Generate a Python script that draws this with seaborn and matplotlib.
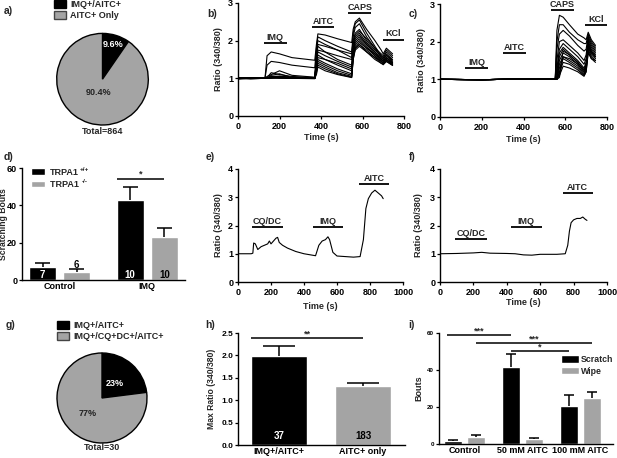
import numpy as np
import pandas as pd
import matplotlib
matplotlib.use("Agg")
import matplotlib.pyplot as plt
from matplotlib.patches import Patch
import seaborn as sns

# ---------------- data ----------------
pie_a_labels = ["IMQ+/AITC+", "AITC+ Only"]
pie_a_pct = [9.6, 90.4]
pie_a_total = 864

pie_g_labels = ["IMQ+/AITC+", "IMQ+/CQ+DC+/AITC+"]
pie_g_pct = [23, 77]
pie_g_total = 30

# b) IMQ / AITC / CAPS / KCl calcium traces
b_time = [0, 60, 130, 140, 160, 200, 260, 370, 378, 385, 420, 480, 548,
          555, 565, 585, 620, 660, 690, 700, 715, 745]
b_traces = [
    [1.0, 1.01, 1.0, 1.6, 1.7, 1.65, 1.55, 1.48, 1.9, 2.18, 2.15, 2.05, 1.95, 2.3, 2.5, 2.6, 2.3, 2.0, 1.75, 1.65, 1.8, 1.65],
    [0.99, 1.0, 1.0, 1.35, 1.45, 1.42, 1.35, 1.28, 1.8, 2.1, 2.0, 1.85, 1.7, 2.2, 2.45, 2.55, 2.2, 1.85, 1.6, 1.55, 1.7, 1.55],
    [1.01, 0.99, 1.0, 1.05, 1.1, 1.2, 1.08, 1.03, 1.7, 2.0, 1.9, 1.75, 1.55, 2.1, 2.35, 2.45, 2.1, 1.8, 1.55, 1.5, 1.62, 1.48],
    [1.0, 1.02, 1.0, 1.02, 1.15, 1.1, 1.05, 1.02, 1.6, 1.9, 1.85, 1.75, 1.65, 2.0, 2.2, 2.3, 2.0, 1.75, 1.6, 1.55, 1.65, 1.5],
    [0.98, 1.0, 1.0, 1.0, 1.08, 1.12, 1.02, 1.0, 1.55, 1.85, 1.7, 1.5, 1.35, 1.9, 2.1, 2.2, 1.95, 1.7, 1.5, 1.45, 1.55, 1.42],
    [1.0, 0.99, 1.0, 1.0, 1.03, 1.05, 1.02, 1.0, 1.5, 1.75, 1.7, 1.6, 1.5, 1.9, 2.15, 2.25, 2.05, 1.8, 1.65, 1.6, 1.75, 1.6],
    [1.01, 1.0, 1.0, 1.0, 1.05, 1.06, 1.03, 1.0, 1.45, 1.7, 1.6, 1.45, 1.3, 1.8, 2.0, 2.1, 1.9, 1.65, 1.5, 1.45, 1.55, 1.4],
    [1.0, 1.0, 1.0, 1.0, 1.02, 1.04, 1.0, 0.99, 1.4, 1.62, 1.5, 1.35, 1.2, 1.7, 1.95, 2.05, 1.85, 1.6, 1.45, 1.4, 1.5, 1.38],
    [0.99, 1.01, 1.0, 1.0, 1.04, 1.03, 1.01, 1.0, 1.35, 1.55, 1.5, 1.4, 1.25, 1.75, 2.05, 2.15, 1.9, 1.7, 1.55, 1.5, 1.6, 1.45],
    [1.0, 1.0, 1.0, 1.0, 1.03, 1.02, 1.0, 1.0, 1.3, 1.5, 1.4, 1.25, 1.12, 1.6, 1.9, 2.0, 1.8, 1.6, 1.45, 1.4, 1.5, 1.38],
    [1.0, 0.99, 1.0, 1.0, 1.01, 1.03, 1.0, 1.0, 1.25, 1.45, 1.35, 1.2, 1.08, 1.6, 1.85, 1.95, 1.8, 1.65, 1.5, 1.45, 1.55, 1.42],
    [1.01, 1.0, 1.0, 1.0, 1.02, 1.01, 1.0, 1.0, 1.2, 1.4, 1.3, 1.15, 1.05, 1.55, 1.8, 1.9, 1.75, 1.55, 1.45, 1.4, 1.48, 1.36],
    [1.0, 1.0, 1.0, 1.0, 1.0, 1.02, 1.0, 1.0, 1.15, 1.35, 1.25, 1.12, 1.03, 1.5, 1.8, 1.9, 1.7, 1.55, 1.4, 1.38, 1.45, 1.35],
    [1.0, 1.01, 1.0, 1.0, 1.01, 1.0, 1.0, 1.0, 1.1, 1.3, 1.2, 1.1, 1.02, 1.5, 1.75, 1.85, 1.7, 1.5, 1.4, 1.36, 1.45, 1.34],
]
b_stim_labels = ["IMQ", "AITC", "CAPS", "KCl"]
b_stim_start = [125, 355, 532, 697]
b_stim_end = [235, 465, 641, 800]
b_stim_level = [1.94, 2.36, 2.73, 2.03]

# c) same protocol, IMQ non-responders
c_time = [0, 200, 300, 450, 552, 560, 572, 590, 620, 660, 690, 700, 710, 725, 745]
c_traces = [
    [1.0, 0.99, 1.0, 1.01, 1.0, 2.3, 2.7, 2.65, 2.45, 2.2, 2.1, 2.05, 2.25, 2.05, 1.9],
    [1.0, 0.99, 1.0, 1.01, 1.0, 2.0, 2.45, 2.45, 2.25, 2.05, 1.95, 1.95, 2.2, 2.0, 1.85],
    [1.0, 0.99, 1.0, 1.01, 1.0, 1.8, 2.2, 2.3, 2.15, 1.9, 1.75, 1.8, 2.15, 1.95, 1.8],
    [1.0, 0.99, 1.0, 1.01, 1.0, 1.5, 2.0, 2.05, 1.9, 1.7, 1.5, 1.65, 2.1, 1.9, 1.75],
    [1.0, 0.99, 1.0, 1.01, 1.0, 1.3, 1.8, 1.95, 1.8, 1.6, 1.4, 1.55, 2.05, 1.85, 1.7],
    [1.0, 0.99, 1.0, 1.01, 1.0, 1.2, 1.7, 1.85, 1.7, 1.5, 1.3, 1.45, 2.0, 1.8, 1.65],
    [1.0, 0.99, 1.0, 1.01, 1.0, 1.1, 1.6, 1.8, 1.65, 1.45, 1.25, 1.4, 1.95, 1.75, 1.6],
    [1.0, 0.99, 1.0, 1.01, 1.0, 1.05, 1.5, 1.7, 1.6, 1.4, 1.2, 1.35, 1.9, 1.7, 1.6],
    [1.0, 0.99, 1.0, 1.01, 1.0, 1.02, 1.4, 1.6, 1.5, 1.35, 1.15, 1.3, 1.85, 1.65, 1.55],
    [1.0, 0.99, 1.0, 1.01, 1.0, 1.0, 1.3, 1.55, 1.45, 1.3, 1.12, 1.25, 1.8, 1.6, 1.5],
    [1.0, 0.99, 1.0, 1.01, 1.0, 1.0, 1.2, 1.45, 1.4, 1.25, 1.1, 1.2, 1.75, 1.55, 1.5],
    [1.0, 0.99, 1.0, 1.01, 1.0, 1.0, 1.1, 1.35, 1.3, 1.2, 1.08, 1.2, 1.7, 1.55, 1.45],
    [1.0, 0.99, 1.0, 1.01, 1.0, 1.0, 1.05, 1.6, 1.55, 1.4, 1.2, 1.3, 1.9, 1.7, 1.6],
    [1.0, 0.99, 1.0, 1.01, 1.0, 1.0, 1.15, 1.75, 1.65, 1.45, 1.25, 1.35, 1.95, 1.75, 1.6],
]
c_stim_labels = ["IMQ", "AITC", "CAPS", "KCl"]
c_stim_start = [120, 303, 531, 693]
c_stim_end = [229, 411, 640, 800]
c_stim_level = [1.30, 1.71, 2.84, 2.44]

# d) scratching bouts
d_categories = ["Control", "IMQ"]
d_genotypes = ["TRPA1", "TRPA1 "]
d_genotype_sup = ["+/+", "-/-"]
d_mean_wt = [6.8, 42.7]
d_mean_ko = [4.3, 22.8]
d_sem_wt = [2.5, 7.1]
d_sem_ko = [1.4, 5.3]
d_n_wt = [7, 10]
d_n_ko = [6, 10]

# e) / f) single-cell traces CQ/DC -> IMQ -> AITC
e_time = [0, 80, 90, 95, 105, 120, 140, 160, 180, 190, 200, 215, 230, 240, 250, 270,
          300, 350, 400, 450, 470, 490, 510, 530, 545, 555, 575, 600, 650, 700, 740,
          760, 775, 790, 810, 830, 850, 870, 880]
e_ratio = [1.0, 1.0, 1.02, 1.38, 1.35, 1.15, 1.25, 1.3, 1.35, 1.45, 1.35, 1.45, 1.55, 1.58, 1.4, 1.3,
           1.2, 1.08, 1.0, 0.95, 0.93, 1.3, 1.45, 1.5, 1.6, 1.5, 1.05, 0.92, 0.9, 0.88, 0.9,
           1.5, 2.6, 2.95, 3.15, 3.25, 3.15, 3.05, 2.95]
e_stim_labels = ["CQ/DC", "IMQ", "AITC"]
e_stim_start = [84, 452, 734]
e_stim_end = [270, 638, 918]
e_stim_level = [1.94, 1.94, 3.46]

f_time = [0, 100, 200, 250, 300, 400, 450, 500, 550, 600, 700, 750, 765, 775, 785,
          800, 820, 840, 855, 870, 880]
f_ratio = [1.0, 1.01, 1.03, 1.05, 1.02, 1.01, 1.0, 0.96, 0.95, 0.98, 0.98, 1.0, 1.3, 1.8, 2.1,
           2.2, 2.25, 2.25, 2.3, 2.22, 2.18]
f_stim_labels = ["CQ/DC", "IMQ", "AITC"]
f_stim_start = [90, 424, 734]
f_stim_end = [280, 608, 915]
f_stim_level = [1.52, 1.94, 3.15]

# h) max ratio
h_categories = ["IMQ+/AITC+", "AITC+ only"]
h_mean = [1.98, 1.31]
h_sem = [0.22, 0.08]
h_n = [37, 183]

# i) AITC cheek model
i_categories = ["Control", "50 mM AITC", "100 mM AITC"]
i_behaviours = ["Scratch", "Wipe"]
i_scratch = [1.4, 41.8, 20.8]
i_scratch_sem = [0.6, 6.6, 5.7]
i_wipe = [3.6, 2.7, 24.7]
i_wipe_sem = [1.4, 0.7, 3.3]

BLACK = "#000000"
GREY = "#a4a4a4"

# ---------------- style ----------------
sns.set_theme(style="ticks")
plt.rcParams["font.family"] = ["Liberation Sans", "DejaVu Sans"]
plt.rcParams["font.weight"] = "bold"
plt.rcParams["axes.labelweight"] = "bold"
plt.rcParams["axes.linewidth"] = 1.0
plt.rcParams["xtick.major.width"] = 0.9
plt.rcParams["ytick.major.width"] = 0.9
plt.rcParams["xtick.major.size"] = 2.5
plt.rcParams["ytick.major.size"] = 2.5
plt.rcParams["xtick.major.pad"] = 1.5
plt.rcParams["ytick.major.pad"] = 1.0
plt.rcParams["axes.edgecolor"] = "black"

W, H = 617, 458
fig = plt.figure(figsize=(W / 100, H / 100), dpi=100)
fig.patch.set_facecolor("white")

TICK = 6.5
LAB = 6.5


def px_axes(left, top, right, bottom):
    return fig.add_axes([left / W, 1 - bottom / H, (right - left) / W, (bottom - top) / H])


def panel_letter(x, y, s):
    fig.text(x / W, 1 - y / H, s, fontsize=7.5, fontweight="bold", va="center", ha="left")


def style_axes(ax, ylab_x=None, xlab_y=None):
    sns.despine(ax=ax)
    ax.tick_params(labelsize=TICK, colors="black")
    for lab in ax.get_xticklabels() + ax.get_yticklabels():
        lab.set_fontweight("bold")
    if ylab_x is not None:
        ax.yaxis.set_label_coords(ylab_x, 0.5)
    if xlab_y is not None:
        ax.xaxis.set_label_coords(0.5, xlab_y)


def draw_pie(ax, pct, label_r, label_colors):
    wedges, _ = ax.pie(pct, colors=[BLACK, GREY], startangle=90, counterclock=False,
                       wedgeprops=dict(edgecolor="black", linewidth=1.0))
    for w, p, r, col in zip(wedges, pct, label_r, label_colors):
        ang = np.deg2rad((w.theta1 + w.theta2) / 2)
        ax.text(r * np.cos(ang), r * np.sin(ang), f"{p:g}%", ha="center", va="center",
                color=col, fontsize=6.5, fontweight="bold")
    ax.set_xlim(-1.04, 1.04)
    ax.set_ylim(-1.04, 1.04)
    ax.set_aspect("equal")


def draw_traces(ax, time, traces, xmax, ymax, ylab_x, xlab_y):
    rows = []
    for k, tr in enumerate(traces):
        for t, v in zip(time, tr):
            rows.append({"time": t, "ratio": v, "cell": k})
    df = pd.DataFrame(rows)
    sns.lineplot(data=df, x="time", y="ratio", units="cell", estimator=None,
                 color="black", linewidth=0.8, ax=ax, legend=False)
    ax.set_xlim(0, xmax)
    ax.set_ylim(0, ymax)
    ax.set_xlabel("Time (s)", fontsize=LAB)
    ax.set_ylabel("Ratio (340/380)", fontsize=LAB)
    style_axes(ax, ylab_x, xlab_y)


def draw_stimuli(ax, labels, starts, ends, levels, dy):
    for lab, s, e, y in zip(labels, starts, ends, levels):
        ax.hlines(y, s, e, color="black", linewidth=1.3, clip_on=False)
        ax.text((s + e) / 2, y + dy, lab, ha="center", va="bottom", fontsize=6.5,
                fontweight="bold", clip_on=False)


def bar_geometry(ax):
    pats = sorted(ax.patches, key=lambda p: p.get_x())
    return [(p.get_x(), p.get_width(), p.get_height()) for p in pats]


def draw_errors(ax, geom, sems):
    for (x0, w, h), s in zip(geom, sems):
        xc = x0 + w / 2
        ax.vlines(xc, h, h + s, color="black", linewidth=1.1)
        ax.hlines(h + s, xc - 0.28 * w, xc + 0.28 * w, color="black", linewidth=1.1)


def sig_bar(ax, x1, x2, y, star, dy):
    ax.hlines(y, x1, x2, color="black", linewidth=1.1, clip_on=False)
    ax.text((x1 + x2) / 2, y + dy, star, ha="center", va="center", fontsize=6.5,
            fontweight="bold", clip_on=False)


# ---------------- a) pie ----------------
r = 45.8
ax_a = px_axes(102.5 - r * 1.04, 79.2 - r * 1.04, 102.5 + r * 1.04, 79.2 + r * 1.04)
draw_pie(ax_a, pie_a_pct, [0.8, 0.31], ["white", "#222222"])
fig.text(102.5 / W, 1 - 132 / H, f"Total={pie_a_total}", ha="center", va="center",
         fontsize=6.5, fontweight="bold")
fig.legend(handles=[Patch(facecolor=BLACK, edgecolor="black"),
                    Patch(facecolor=GREY, edgecolor="#444444")],
           labels=pie_a_labels, loc="upper left", bbox_to_anchor=(54 / W, 1 - 0 / H),
           frameon=False, fontsize=6.5, handlelength=1.3, handleheight=0.9,
           handletextpad=0.5, labelspacing=0.25, borderaxespad=0, borderpad=0)
panel_letter(4, 11, "a)")

# ---------------- b) ----------------
ax_b = px_axes(238, 3, 404, 116)
draw_traces(ax_b, b_time, b_traces, 800, 3, -0.089, -0.153)
ax_b.set_xticks([0, 200, 400, 600, 800])
ax_b.set_yticks([0, 1, 2, 3])
draw_stimuli(ax_b, b_stim_labels, b_stim_start, b_stim_end, b_stim_level, 0.03)
panel_letter(207, 14, "b)")

# ---------------- c) ----------------
ax_c = px_axes(440, 4, 607, 117)
draw_traces(ax_c, c_time, c_traces, 800, 3, -0.084, -0.16)
ax_c.set_xticks([0, 200, 400, 600, 800])
ax_c.set_yticks([0, 1, 2, 3])
draw_stimuli(ax_c, c_stim_labels, c_stim_start, c_stim_end, c_stim_level, 0.02)
panel_letter(409, 14, "c)")

# ---------------- d) bars ----------------
ax_d = px_axes(22, 168, 185, 280)
d_df = pd.DataFrame({
    "group": d_categories * 2,
    "genotype": [d_genotypes[0]] * 2 + [d_genotypes[1]] * 2,
    "bouts": d_mean_wt + d_mean_ko,
})
sns.barplot(data=d_df, x="group", y="bouts", hue="genotype", order=d_categories,
            hue_order=d_genotypes, palette=[BLACK, GREY], width=0.78, gap=0.2,
            errorbar=None, legend=False, saturation=1, ax=ax_d)
geom_d = bar_geometry(ax_d)
sem_d = [d_sem_wt[0], d_sem_ko[0], d_sem_wt[1], d_sem_ko[1]]
n_d = [d_n_wt[0], d_n_ko[0], d_n_wt[1], d_n_ko[1]]
n_d_colors = ["white", "black", "white", "black"]
draw_errors(ax_d, geom_d, sem_d)
for (x0, w, h), n, sem, col in zip(geom_d, n_d, sem_d, n_d_colors):
    y = 2.7 if h > 5 else h + sem + 2.6
    ax_d.text(x0 + w / 2, y, str(n), ha="center", va="center",
              fontsize=7, fontweight="bold", color=col)
ax_d.set_ylim(0, 60)
ax_d.set_xlim(-0.43, 1.43)
ax_d.set_yticks([0, 20, 40, 60])
ax_d.set_xlabel("")
ax_d.set_ylabel("Scratching Bouts", fontsize=6.2)
ax_d.tick_params(axis="x", length=0)
style_axes(ax_d, -0.088)
sig_bar(ax_d, geom_d[2][0], geom_d[3][0] + geom_d[3][1] / 2, 54, "*", 3)
leg_d = ax_d.legend(handles=[Patch(facecolor=BLACK), Patch(facecolor=GREY)],
                    labels=d_genotypes, loc="upper left",
                    bbox_to_anchor=(31 / W, 1 - 168 / H),
                    bbox_transform=fig.transFigure, frameon=False, fontsize=6.5,
                    handlelength=1.6, handleheight=0.8, handletextpad=0.5,
                    labelspacing=0.35, borderaxespad=0, borderpad=0)
panel_letter(4, 157, "d)")

# ---------------- e) ----------------
ax_e = px_axes(238, 169, 403, 282)
draw_traces(ax_e, e_time, [e_ratio], 1000, 4, -0.093, -0.174)
ax_e.set_xticks([0, 200, 400, 600, 800, 1000])
ax_e.set_yticks([0, 1, 2, 3, 4])
draw_stimuli(ax_e, e_stim_labels, e_stim_start, e_stim_end, e_stim_level, 0.05)
panel_letter(206, 157, "e)")

# ---------------- f) ----------------
ax_f = px_axes(440, 169, 607, 282)
draw_traces(ax_f, f_time, [f_ratio], 1000, 4, -0.1, -0.144)
ax_f.set_xticks([0, 200, 400, 600, 800, 1000])
ax_f.set_yticks([0, 1, 2, 3, 4])
draw_stimuli(ax_f, f_stim_labels, f_stim_start, f_stim_end, f_stim_level, 0.05)
panel_letter(409, 157, "f)")

# ---------------- g) pie ----------------
r = 45.0
ax_g = px_axes(102 - r * 1.04, 398 - r * 1.04, 102 + r * 1.04, 398 + r * 1.04)
draw_pie(ax_g, pie_g_pct, [0.42, 0.47], ["white", "#222222"])
fig.text(102 / W, 1 - 447 / H, f"Total={pie_g_total}", ha="center", va="center",
         fontsize=6.5, fontweight="bold")
fig.legend(handles=[Patch(facecolor=BLACK, edgecolor="black"),
                    Patch(facecolor=GREY, edgecolor="#444444")],
           labels=pie_g_labels, loc="upper left", bbox_to_anchor=(57 / W, 1 - 321 / H),
           frameon=False, fontsize=6.5, handlelength=1.3, handleheight=0.9,
           handletextpad=0.5, labelspacing=0.25, borderaxespad=0, borderpad=0)
panel_letter(6, 325, "g)")

# ---------------- h) bars ----------------
ax_h = px_axes(238, 333, 405, 445)
h_df = pd.DataFrame({"group": h_categories, "ratio": h_mean})
sns.barplot(data=h_df, x="group", y="ratio", hue="group", palette=[BLACK, GREY],
            width=0.67, errorbar=None, legend=False, saturation=1, ax=ax_h)
geom_h = bar_geometry(ax_h)
draw_errors(ax_h, geom_h, h_sem)
for (x0, w, h), n, col in zip(geom_h, h_n, ["white", "black"]):
    ax_h.text(x0 + w / 2, 0.19, str(n), ha="center", va="center", fontsize=7,
              fontweight="bold", color=col)
ax_h.set_ylim(0, 2.5)
ax_h.set_xlim(-0.49, 1.5)
ax_h.set_yticks([0, 0.5, 1.0, 1.5, 2.0, 2.5])
ax_h.set_yticklabels([f"{v:.1f}" for v in [0, 0.5, 1.0, 1.5, 2.0, 2.5]])
ax_h.set_xlabel("")
ax_h.set_ylabel("Max Ratio (340/380)", fontsize=6.2)
ax_h.tick_params(axis="x", length=0)
style_axes(ax_h, -0.13)
ax_h.tick_params(axis="y", labelsize=6)
sig_bar(ax_h, geom_h[0][0], geom_h[1][0] + geom_h[1][1] / 2, 2.38, "**", 0.1)
panel_letter(205, 325, "h)")

# ---------------- i) bars ----------------
ax_i = px_axes(439, 333, 613, 444)
i_df = pd.DataFrame({
    "group": i_categories * 2,
    "behaviour": [i_behaviours[0]] * 3 + [i_behaviours[1]] * 3,
    "bouts": i_scratch + i_wipe,
})
sns.barplot(data=i_df, x="group", y="bouts", hue="behaviour", order=i_categories,
            hue_order=i_behaviours, palette=[BLACK, GREY], width=0.82, gap=0.25,
            errorbar=None, legend=False, saturation=1, ax=ax_i)
geom_i = bar_geometry(ax_i)
sem_i = [i_scratch_sem[0], i_wipe_sem[0], i_scratch_sem[1], i_wipe_sem[1],
         i_scratch_sem[2], i_wipe_sem[2]]
draw_errors(ax_i, geom_i, sem_i)
ax_i.set_ylim(0, 60)
ax_i.set_xlim(-0.44, 2.56)
ax_i.set_yticks([0, 20, 40, 60])
ax_i.set_xlabel("")
ax_i.set_ylabel("Bouts", fontsize=LAB)
ax_i.tick_params(axis="x", length=0)
style_axes(ax_i, -0.09)
ax_i.tick_params(axis="y", labelsize=4.5)
ctr = [x0 + w / 2 for x0, w, h in geom_i]
sig_bar(ax_i, ctr[0] - 0.1, ctr[2], 58.9, "***", 2.2)
sig_bar(ax_i, ctr[1], ctr[5], 54.4, "***", 2.2)
sig_bar(ax_i, ctr[2], ctr[4], 50.3, "*", 2.2)
ax_i.legend(handles=[Patch(facecolor=BLACK), Patch(facecolor=GREY)], labels=i_behaviours,
            loc="upper left", bbox_to_anchor=(561 / W, 1 - 355 / H),
            bbox_transform=fig.transFigure, frameon=False, fontsize=6.3,
            handlelength=2.0, handleheight=0.9, handletextpad=0.3, labelspacing=0.3,
            borderaxespad=0, borderpad=0)
panel_letter(408, 325, "i)")

# superscripts for the genotype legend in d), placed just after "TRPA1"
fig.canvas.draw()
renderer = fig.canvas.get_renderer()
leg_texts = leg_d.get_texts()
base_w = leg_texts[0].get_window_extent(renderer).width
for txt, sup, extra in zip(leg_texts, d_genotype_sup, [1.0, 3.0]):
    bb = txt.get_window_extent(renderer)
    fig.text((bb.x0 + base_w + extra) / W, (bb.y1 - 1.5) / H, sup, fontsize=4.5,
             fontweight="bold", ha="left", va="center")

fig.savefig("out.png", dpi=100, facecolor="white")
